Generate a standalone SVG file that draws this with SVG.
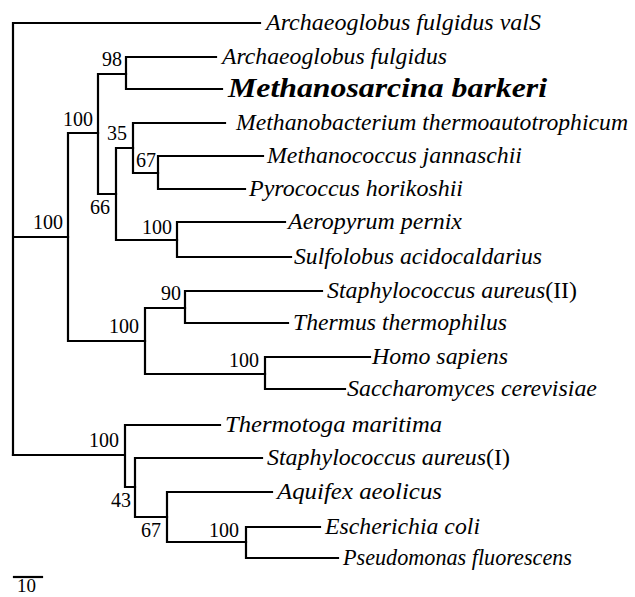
<svg xmlns="http://www.w3.org/2000/svg" width="635" height="597" viewBox="0 0 635 597">
<style>
.e{fill:none;stroke:#000;stroke-width:2.2;stroke-linecap:square}
.t{font-family:"Liberation Serif","Times New Roman",serif;font-style:italic;font-size:23px;fill:#000}
.u{font-style:normal}
.b{font-family:"Liberation Serif","Times New Roman",serif;font-style:italic;font-weight:bold;font-size:27px;fill:#000}
.n{font-family:"Liberation Serif","Times New Roman",serif;font-size:20px;text-anchor:end;fill:#000}
.s{font-family:"Liberation Serif","Times New Roman",serif;font-size:19px;fill:#000}
</style>
<rect width="635" height="597" fill="#fff"/>
<g id="connectors" class="e">
<path d="M13,23 V455 M13,23 H260 M13,237 H68"/>
<path d="M68,133 V341 M68,133 H98 M68,341 H145"/>
<path d="M98,74 V194 M98,74 H126 M98,194 H116"/>
<path d="M126,57 V89 M126,57 H216 M126,89 H222"/>
<path d="M116,148 V240 M116,148 H133 M116,240 H177"/>
<path d="M133,123 V173 M133,123 H225 M133,173 H158"/>
<path d="M158,156 V189 M158,156 H263 M158,189 H245"/>
<path d="M177,222 V257 M177,222 H285 M177,257 H291"/>
<path d="M145,308 V374 M145,308 H185 M145,374 H265"/>
<path d="M185,291 V323 M185,291 H322 M185,323 H288"/>
<path d="M265,357 V389 M265,357 H370 M265,389 H345"/>
<path d="M13,455 H125 M125,425 V487 M125,425 H220 M125,487 H135"/>
<path d="M135,458 V517 M135,458 H262 M135,517 H167"/>
<path d="M167,492 V542 M167,492 H272 M167,542 H246"/>
<path d="M246,527 V558 M246,527 H320 M246,558 H338"/>
</g>
<g id="leaf-valS"><text class="t" x="266" y="29.5" textLength="275" lengthAdjust="spacingAndGlyphs">Archaeoglobus fulgidus valS</text></g>
<g id="leaf-afulgidus"><text class="t" x="222" y="63.5" textLength="225" lengthAdjust="spacingAndGlyphs">Archaeoglobus fulgidus</text></g>
<g id="leaf-mbarkeri"><text class="b" x="228" y="96.5" textLength="319" lengthAdjust="spacingAndGlyphs">Methanosarcina barkeri</text></g>
<g id="leaf-mthermo"><text class="t" x="236" y="129.5" textLength="392" lengthAdjust="spacingAndGlyphs">Methanobacterium thermoautotrophicum</text></g>
<g id="leaf-mjannaschii"><text class="t" x="267" y="162.5" textLength="255" lengthAdjust="spacingAndGlyphs">Methanococcus jannaschii</text></g>
<g id="leaf-phorikoshii"><text class="t" x="249" y="195.5" textLength="214" lengthAdjust="spacingAndGlyphs">Pyrococcus horikoshii</text></g>
<g id="leaf-apernix"><text class="t" x="288" y="228.5" textLength="174" lengthAdjust="spacingAndGlyphs">Aeropyrum pernix</text></g>
<g id="leaf-sacidocaldarius"><text class="t" x="294" y="263.5" textLength="248" lengthAdjust="spacingAndGlyphs">Sulfolobus acidocaldarius</text></g>
<g id="leaf-saureus2"><text class="t" x="327" y="297.5" textLength="250" lengthAdjust="spacingAndGlyphs">Staphylococcus aureus<tspan class="u">(II)</tspan></text></g>
<g id="leaf-tthermophilus"><text class="t" x="293" y="329.5" textLength="214" lengthAdjust="spacingAndGlyphs">Thermus thermophilus</text></g>
<g id="leaf-hsapiens"><text class="t" x="372" y="363.5" textLength="136" lengthAdjust="spacingAndGlyphs">Homo sapiens</text></g>
<g id="leaf-scerevisiae"><text class="t" x="347" y="395.5" textLength="250" lengthAdjust="spacingAndGlyphs">Saccharomyces cerevisiae</text></g>
<g id="leaf-tmaritima"><text class="t" x="225" y="431.5" textLength="217" lengthAdjust="spacingAndGlyphs">Thermotoga maritima</text></g>
<g id="leaf-saureus1"><text class="t" x="267" y="464.5" textLength="243" lengthAdjust="spacingAndGlyphs">Staphylococcus aureus<tspan class="u">(I)</tspan></text></g>
<g id="leaf-aaeolicus"><text class="t" x="277" y="498.5" textLength="165" lengthAdjust="spacingAndGlyphs">Aquifex aeolicus</text></g>
<g id="leaf-ecoli"><text class="t" x="325" y="533.5" textLength="155" lengthAdjust="spacingAndGlyphs">Escherichia coli</text></g>
<g id="leaf-pfluorescens"><text class="t" x="343" y="564.5" textLength="229" lengthAdjust="spacingAndGlyphs">Pseudomonas fluorescens</text></g>
<g id="node-98"><text class="n" x="122" y="66">98</text></g>
<g id="node-100a"><text class="n" x="93" y="126">100</text></g>
<g id="node-35"><text class="n" x="127" y="140">35</text></g>
<g id="node-67a"><text class="n" x="156" y="167">67</text></g>
<g id="node-66"><text class="n" x="110" y="214">66</text></g>
<g id="node-100root"><text class="n" x="63" y="229">100</text></g>
<g id="node-100b"><text class="n" x="172" y="234">100</text></g>
<g id="node-90"><text class="n" x="181" y="300">90</text></g>
<g id="node-100c"><text class="n" x="139" y="333">100</text></g>
<g id="node-100d"><text class="n" x="259" y="367">100</text></g>
<g id="node-100e"><text class="n" x="119" y="447">100</text></g>
<g id="node-43"><text class="n" x="131" y="507">43</text></g>
<g id="node-67b"><text class="n" x="161" y="537">67</text></g>
<g id="node-100f"><text class="n" x="239" y="537">100</text></g>
<g id="scale"><path class="e" d="M14,577 H42"/><text class="s" x="17" y="592">10</text></g>
</svg>
